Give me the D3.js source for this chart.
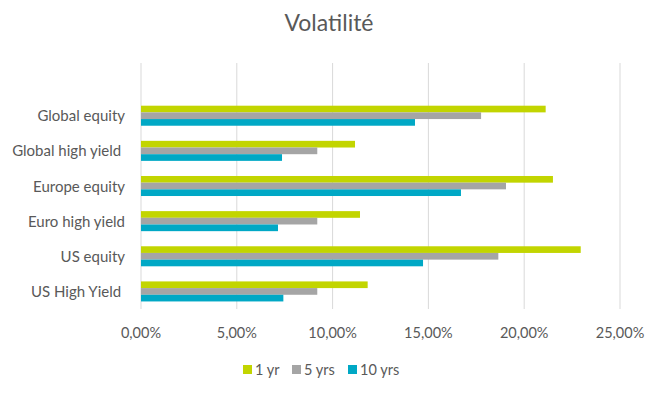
<!DOCTYPE html>
<html>
<head>
  <meta charset="utf-8">
  <title>Volatilité</title>
  <style>
    body { margin: 0; background: #fff; }
    text { font-family: Lato, 'Open Sans', sans-serif; fill: #595959; white-space: pre; }
  </style>
  <script src="https://cdn.jsdelivr.net/npm/d3@7"></script>
</head>
<body>
  <svg id="chart" width="655" height="395"></svg>
  <script>
    // data, top to bottom
    var categories = ["Global equity", "Global high yield ", "Europe equity", "Euro high yield", "US equity", "US High Yield "];
    var seriesNames = ["1 yr", "5 yrs", "10 yrs"];
    var oneYear = [0.2112, 0.1117, 0.2150, 0.1143, 0.2295, 0.1183];
    var fiveYears = [0.1775, 0.0920, 0.1905, 0.0920, 0.1865, 0.0920];
    var tenYears = [0.1430, 0.0736, 0.1670, 0.0715, 0.1472, 0.0743];
    var xTicks = [0, 0.05, 0.10, 0.15, 0.20, 0.25];
    var colors = ["#c2d500", "#a5a5a5", "#00a8c5"];

    var series = [oneYear, fiveYears, tenYears];
    var svg = d3.select("#chart");

    var x = d3.scaleLinear().domain([0, 0.25]).range([141, 620]);
    // the plot area keeps an empty slot on top, as in the original
    var y = d3.scaleBand().domain(["_blank"].concat(categories)).range([63, 309]).paddingInner(0.43).paddingOuter(0.215);
    var sub = d3.scaleBand().domain(seriesNames).range([0, y.bandwidth()]);

    svg.append("text")
      .attr("x", 329).attr("y", 31)
      .attr("text-anchor", "middle")
      .style("font-size", "23px")
      .text("Volatilité");

    // gridlines
    svg.append("g").selectAll("line")
      .data(xTicks)
      .join("line")
      .attr("x1", d => x(d)).attr("x2", d => x(d))
      .attr("y1", 63).attr("y2", 309)
      .attr("stroke", "#d9d9d9").attr("stroke-width", 1);

    // x labels
    var fmt = d => d3.format(".2f")(d * 100).replace(".", ",") + "%";
    svg.append("g").selectAll("text")
      .data(xTicks)
      .join("text")
      .attr("x", d => x(d)).attr("y", 338)
      .attr("text-anchor", "middle")
      .style("font-size", "14.5px")
      .text(fmt);

    // category labels
    svg.append("g").selectAll("text")
      .data(categories)
      .join("text")
      .attr("x", 125)
      .attr("y", d => y(d) + y.bandwidth() / 2 + 5.5)
      .attr("text-anchor", "end")
      .style("font-size", "15px")
      .text(d => d);

    // bars
    series.forEach(function (vals, si) {
      svg.append("g").selectAll("rect")
        .data(vals)
        .join("rect")
        .attr("x", x(0))
        .attr("y", (d, i) => y(categories[i]) + sub(seriesNames[si]))
        .attr("width", d => x(d) - x(0))
        .attr("height", sub.bandwidth())
        .attr("fill", colors[si]);
    });

    // legend
    var legendX = [243, 292, 348];
    var lg = svg.append("g").selectAll("g")
      .data(seriesNames)
      .join("g")
      .attr("transform", (d, i) => "translate(" + legendX[i] + ",365)");
    lg.append("rect").attr("width", 9).attr("height", 9).attr("fill", (d, i) => colors[i]);
    lg.append("text").attr("x", 12).attr("y", 10).style("font-size", "14.5px").text(d => d);
  </script>
</body>
</html>
